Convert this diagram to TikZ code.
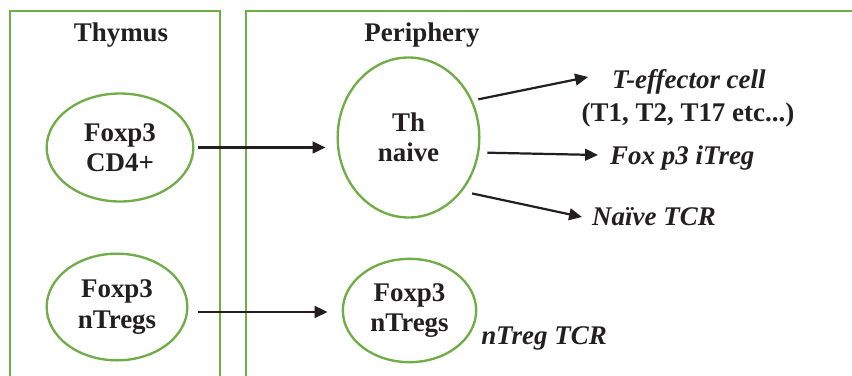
\documentclass[tikz,border=0pt]{standalone}
\usepackage{fontspec}
\setmainfont{Liberation Serif}
\usetikzlibrary{arrows.meta,shapes.geometric}
\definecolor{cellgreen}{RGB}{112,173,71}
\definecolor{ink}{RGB}{35,31,32}
\begin{document}
\begin{tikzpicture}[x=0.03cm,y=-0.03cm,
  cell/.style={ellipse,draw=cellgreen,line width=2pt,inner sep=0pt,align=center,
    font=\fontsize{23}{26}\selectfont\bfseries,text=ink},
  lbl/.style={inner sep=0pt,font=\fontsize{23}{26}\selectfont\bfseries,text=ink},
  ilbl/.style={lbl,font=\fontsize{23}{26}\selectfont\bfseries\itshape},
  arr/.style={draw=ink,line width=1.9pt,-{Triangle[length=11pt,width=10pt]}}]
\useasboundingbox (0,0) rectangle (852,376);

\begin{scope}
\clip (0,0) rectangle (852,376);
\draw[line width=2pt,cellgreen] (10,11) rectangle (220,400);
\draw[line width=2pt,cellgreen] (246,11) rectangle (880,400);
\end{scope}

\node[lbl] (thy) at (121,35) {Thymus};
\node[lbl] (per) at (422,35) {Periphery};

\node[cell,minimum width=4.4cm,minimum height=3.24cm] (fc) at (120,147.5) {Foxp3\\CD4+};
\node[cell,minimum width=4.22cm,minimum height=3.2cm] (nT) at (117,307) {Foxp3\\nTregs};
\node[cell,minimum width=4.25cm,minimum height=4.8cm] (thn) at (408.5,137.5) {Th\\naive};
\node[cell,minimum width=4.0cm,minimum height=3.1cm] (nTr) at (409.5,310.5) {Foxp3\\nTregs};

\node[ilbl,anchor=west] (teff) at (612,82) {T-effector cell};
\node[lbl] (tsub) at (688,115) {(T1, T2, T17 etc...)};
\node[ilbl,anchor=west] (itreg) at (610,158) {Fox p3 iTreg};
\node[ilbl,anchor=west] (ntcr) at (592,217) {Naïve TCR};
\node[ilbl] (trtcr) at (544,338) {nTreg TCR};

\draw[arr,shorten <=3.4pt,shorten >=9.4pt] (fc.east) -- (fc.east -| thn.west);
\draw[arr,shorten <=8.5pt,shorten >=12pt] (nT.-4) -- (nT.-4 -| nTr.west);
\draw[arr,shorten <=5pt] (thn.30) -- ([shift={(-24,-5)}]teff.west);
\draw[arr,shorten <=7pt] (thn.-12) -- ([shift={(-12,-3)}]itreg.west);
\draw[arr,shorten <=8.5pt] (thn.-45) -- ([shift={(-10,0)}]ntcr.west);
\end{tikzpicture}
\end{document}
